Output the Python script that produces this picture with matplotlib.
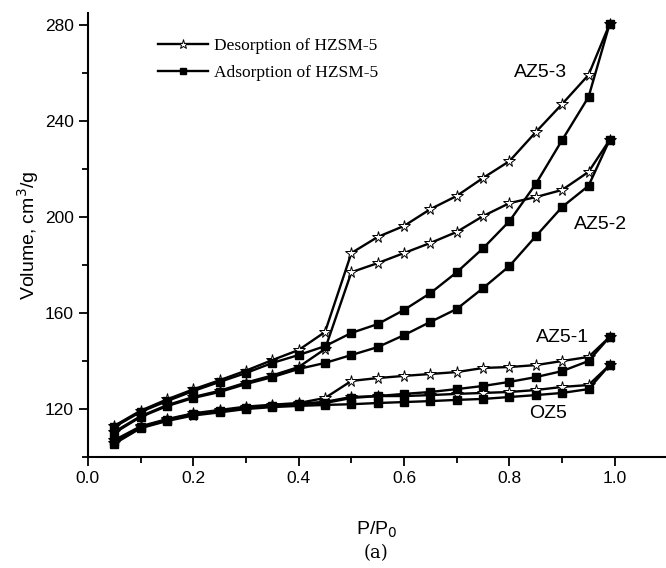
import matplotlib.pyplot as plt
from matplotlib.ticker import MultipleLocator

p = [0.05, 0.10, 0.15, 0.20, 0.25, 0.30, 0.35, 0.40, 0.45, 0.50,
     0.55, 0.60, 0.65, 0.70, 0.75, 0.80, 0.85, 0.90, 0.95, 0.99]

oz5_ads = [105.5, 112.0, 115.0, 117.3, 118.6, 120.0, 120.8, 121.3, 121.7, 122.0,
           122.5, 122.9, 123.3, 123.8, 124.2, 125.0, 125.8, 126.7, 128.3, 138.3]
oz5_des = [106.0, 112.3, 115.3, 117.6, 119.0, 120.4, 121.4, 122.2, 123.0, 125.0,
           125.4, 125.4, 125.8, 126.3, 126.7, 127.1, 127.9, 129.2, 130.0, 138.3]
az51_ads = [106.5, 112.5, 115.5, 117.8, 119.2, 120.6, 121.4, 122.0, 122.5, 124.6,
            125.4, 126.3, 127.1, 128.3, 129.6, 131.3, 133.3, 135.8, 140.0, 150.0]
az51_des = [107.0, 112.8, 115.8, 118.2, 119.6, 121.0, 121.8, 122.5, 124.6, 131.7,
            132.9, 133.8, 134.6, 135.4, 137.1, 137.5, 138.3, 140.0, 141.7, 150.0]
az52_ads = [110.0, 116.7, 121.2, 124.6, 127.1, 130.4, 133.3, 136.7, 139.2, 142.5,
            145.8, 150.8, 156.3, 161.7, 170.4, 179.6, 192.0, 204.2, 213.0, 232.1]
az52_des = [110.5, 117.0, 121.6, 125.0, 127.6, 131.0, 134.0, 137.5, 145.0, 177.0,
            180.8, 185.0, 189.2, 193.8, 200.4, 205.8, 208.3, 211.3, 218.8, 232.1]
az53_ads = [112.5, 118.8, 123.3, 127.5, 131.3, 135.0, 139.2, 142.5, 146.2, 151.7,
            155.4, 161.3, 168.3, 177.0, 187.0, 198.3, 213.8, 232.1, 250.0, 280.4]
az53_des = [113.0, 119.3, 124.0, 128.2, 132.0, 136.0, 140.4, 144.6, 152.1, 185.0,
            191.7, 196.3, 203.3, 208.8, 216.3, 223.3, 235.4, 247.1, 259.2, 280.4]

samples = ['OZ5', 'AZ5-1', 'AZ5-2', 'AZ5-3']
ads = [oz5_ads, az51_ads, az52_ads, az53_ads]
des = [oz5_des, az51_des, az52_des, az53_des]
# where the sample names sit (data coords)
label_xy = [(0.873, 118.3), (0.901, 150.0), (0.972, 196.7), (0.858, 260.4)]

legend_labels = ['Desorption of HZSM-5', 'Adsorption of HZSM-5']


def plot():
    plt.rcParams['font.family'] = ['Liberation Sans', 'DejaVu Sans']
    fig = plt.figure(figsize=(6.66, 5.68), dpi=100)
    ax = fig.add_axes([0.132, 0.1954, 0.868, 0.7817])

    star = dict(color='black', lw=1.7, marker='*', ms=8.5, mfc='white',
                mec='black', mew=0.7)
    square = dict(color='black', lw=1.7, marker='s', ms=6, mfc='black',
                  mec='black')
    for i in range(len(samples)):
        h1, = ax.plot(p, des[i], **star)
        h2, = ax.plot(p, ads[i], **square)
        ax.text(label_xy[i][0], label_xy[i][1], samples[i], fontsize=14,
                ha='center', va='center')

    ax.set_xlim(0, 1.097)
    ax.set_ylim(100, 285)
    ax.xaxis.set_major_locator(MultipleLocator(0.2))
    ax.xaxis.set_minor_locator(MultipleLocator(0.1))
    ax.yaxis.set_major_locator(MultipleLocator(40))
    ax.yaxis.set_minor_locator(MultipleLocator(20))
    ax.set_yticks([120, 160, 200, 240, 280])
    ax.tick_params(which='major', length=6.5, width=1.3, labelsize=12.5)
    ax.tick_params(which='minor', length=4, width=1.3)
    ax.spines['top'].set_visible(False)
    ax.spines['right'].set_visible(False)
    ax.spines['left'].set_linewidth(1.5)
    ax.spines['bottom'].set_linewidth(1.5)

    ax.set_ylabel('Volume, cm$^3$/g', fontsize=14, labelpad=3)
    ax.set_xlabel('P/P$_0$', fontsize=14, labelpad=24)
    fig.text(0.565, 0.027, '(a)', fontsize=13, family='DejaVu Serif',
             ha='center', va='center')

    ax.legend([h1, h2], legend_labels, loc='upper left',
              bbox_to_anchor=(158 / 666, 1 - 38 / 568),
              bbox_transform=fig.transFigure, frameon=False,
              borderpad=0, borderaxespad=0, handlelength=2.9,
              handletextpad=0.35, labelspacing=0.6, markerscale=0.8,
              prop={'family': 'Liberation Serif', 'size': 12.5})

    fig.savefig('out.png', dpi=100)


if __name__ == '__main__':
    plot()
